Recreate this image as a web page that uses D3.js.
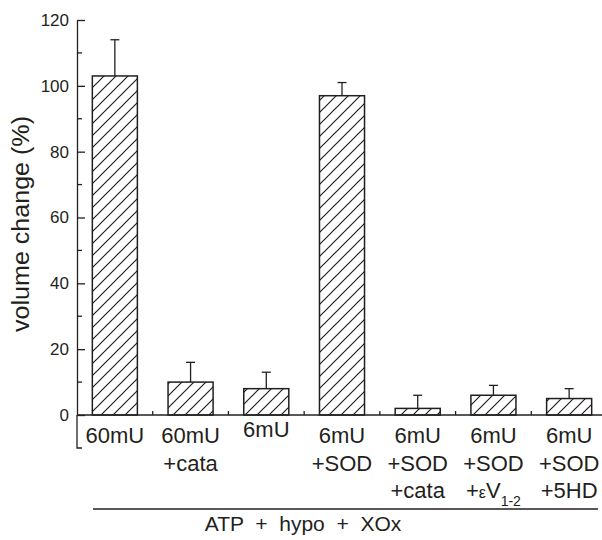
<!DOCTYPE html>
<html>
<head>
<meta charset="utf-8">
<script src="https://cdn.jsdelivr.net/npm/d3@7"></script>
<style>
  body { margin: 0; background: #fff; }
  text { font-family: "Liberation Sans", Arial, sans-serif; fill: #231f20; }
</style>
</head>
<body>
<script>
var groups = ["60mU", "60mU+cata", "6mU", "6mU+SOD", "6mU+SOD+cata", "6mU+SOD+eV", "6mU+SOD+5HD"];
var labelLines = [["60mU"], ["60mU", "+cata"], ["6mU"], ["6mU", "+SOD"], ["6mU", "+SOD", "+cata"], ["6mU", "+SOD", "+\u03b5V"], ["6mU", "+SOD", "+5HD"]];
var values = [103, 10, 8, 97, 2, 6, 5];
var errors = [11, 6, 5, 4, 4, 3, 3];
var yMajor = [0, 20, 40, 60, 80, 100, 120];
var yMinor = [10, 30, 50, 70, 90, 110];

var width = 602, height = 540, ink = '#231f20';

var svg = d3.select('body').append('svg').attr('width', width).attr('height', height);

// hatch pattern
svg.append('defs').append('pattern')
    .attr('id', 'hatch').attr('patternUnits', 'userSpaceOnUse')
    .attr('width', 12).attr('height', 12)
  .append('path')
    .attr('d', 'M0,12 L12,0 M-3,3 L3,-3 M9,15 L15,9')
    .attr('stroke', ink).attr('stroke-width', 1.2);

var x = d3.scaleBand().domain(groups).range([77, 607]).paddingInner(0.405).paddingOuter(0.2025);
var y = d3.scaleLinear().domain([0, 120]).range([415, 20]);

// y axis
var yAxis = d3.axisLeft(y).tickValues(yMajor).tickSizeInner(-8).tickSizeOuter(0).tickPadding(8);
var gy = svg.append('g').attr('transform', 'translate(77,0)').call(yAxis);
gy.selectAll('text').style('font-size', '17px').attr('fill', ink).style('font-family', '"Liberation Sans", Arial, sans-serif');
gy.selectAll('line, path').attr('stroke', ink).attr('stroke-width', 1.3);
gy.selectAll('.minor').data(yMinor).enter().append('line')
    .attr('x1', 0).attr('x2', 5).attr('y1', d => y(d)).attr('y2', d => y(d))
    .attr('stroke', ink).attr('stroke-width', 1.3);
// axis extension below zero with hook
gy.append('path').attr('d', 'M0,' + y(0) + ' V448 H5').attr('fill', 'none')
    .attr('stroke', ink).attr('stroke-width', 1.3);

// bars
svg.selectAll('.bar').data(groups).enter().append('rect')
    .attr('x', d => x(d)).attr('width', x.bandwidth())
    .attr('y', (d, i) => y(values[i])).attr('height', (d, i) => y(0) - y(values[i]))
    .attr('fill', 'url(#hatch)').attr('stroke', ink).attr('stroke-width', 1.5);

// error bars
var eb = svg.selectAll('.err').data(groups).enter().append('g');
eb.append('line')
    .attr('x1', d => x(d) + x.bandwidth() / 2).attr('x2', d => x(d) + x.bandwidth() / 2)
    .attr('y1', (d, i) => y(values[i])).attr('y2', (d, i) => y(values[i] + errors[i]))
    .attr('stroke', ink).attr('stroke-width', 1.3);
eb.append('line')
    .attr('x1', d => x(d) + x.bandwidth() / 2 - 4.5).attr('x2', d => x(d) + x.bandwidth() / 2 + 4.5)
    .attr('y1', (d, i) => y(values[i] + errors[i])).attr('y2', (d, i) => y(values[i] + errors[i]))
    .attr('stroke', ink).attr('stroke-width', 1.3);

// x axis baseline and separators
svg.append('line').attr('x1', 77).attr('x2', 602).attr('y1', y(0)).attr('y2', y(0))
    .attr('stroke', ink).attr('stroke-width', 1.5);
svg.selectAll('.sep').data(groups.slice(1)).enter().append('line')
    .attr('x1', d => x(d) - x.step() * x.paddingInner() / 2).attr('x2', d => x(d) - x.step() * x.paddingInner() / 2)
    .attr('y1', y(0)).attr('y2', y(0) - 4)
    .attr('stroke', ink).attr('stroke-width', 1.3);

// category labels
var lab = svg.selectAll('.lab').data(groups).enter().append('text')
    .attr('text-anchor', 'middle').style('font-size', '22px')
    .attr('transform', (d, i) => 'translate(' + (x(d) + x.bandwidth() / 2) + ',' + (i === 2 ? 437 : 443) + ')');
lab.each(function(d, i) {
  var t = d3.select(this);
  labelLines[i].forEach(function(s, j) {
    var ts = t.append('tspan').attr('x', 0).attr('y', j * 27.5).text(s);
    if (i === 5 && j === 2) {
      ts.text('+');
      t.append('tspan').attr('style', 'font-size:16px').text('\u03b5');
      t.append('tspan').text('V');
      t.append('tspan').attr('dy', 8).attr('style', 'font-size:14px').text('1-2');
    }
  });
});

// bottom bracket
svg.append('line').attr('x1', 93).attr('x2', 598).attr('y1', 509).attr('y2', 509)
    .attr('stroke', ink).attr('stroke-width', 1.3);
svg.append('text').attr('x', 303).attr('y', 531).attr('text-anchor', 'middle')
    .style('font-size', '21px').style('white-space', 'pre').text('ATP  +  hypo  +  XOx');

// y label
svg.append('text').attr('transform', 'translate(29,224) rotate(-90)')
    .attr('text-anchor', 'middle').style('font-size', '23px')
    .attr('textLength', 216).attr('lengthAdjust', 'spacingAndGlyphs')
    .text('volume change (%)');
</script>
</body>
</html>
